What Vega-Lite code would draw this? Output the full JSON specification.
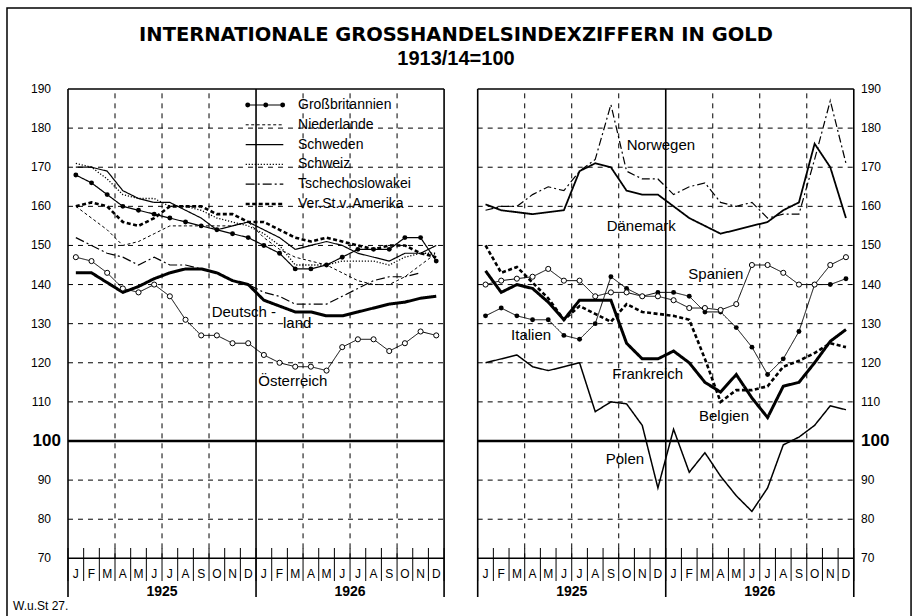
{
  "$schema": "https://vega.github.io/schema/vega-lite/v6.json",
  "width": 912,
  "height": 616,
  "autosize": "none",
  "padding": 0,
  "background": "white",
  "config": {"view": {"stroke": null}, "text": {"font": "Liberation Sans", "color": "black"}},
  "datasets": {
    "series": [
      {"p":"L","s":"Großbritannien","k":1,"v":168},{"p":"L","s":"Großbritannien","k":2,"v":166},{"p":"L","s":"Großbritannien","k":3,"v":163},{"p":"L","s":"Großbritannien","k":4,"v":160},{"p":"L","s":"Großbritannien","k":5,"v":159},{"p":"L","s":"Großbritannien","k":6,"v":158},{"p":"L","s":"Großbritannien","k":7,"v":157},{"p":"L","s":"Großbritannien","k":8,"v":156},{"p":"L","s":"Großbritannien","k":9,"v":155},{"p":"L","s":"Großbritannien","k":10,"v":154},{"p":"L","s":"Großbritannien","k":11,"v":153},{"p":"L","s":"Großbritannien","k":12,"v":152},{"p":"L","s":"Großbritannien","k":13,"v":150},{"p":"L","s":"Großbritannien","k":14,"v":148},{"p":"L","s":"Großbritannien","k":15,"v":144},{"p":"L","s":"Großbritannien","k":16,"v":144},{"p":"L","s":"Großbritannien","k":17,"v":145},{"p":"L","s":"Großbritannien","k":18,"v":147},{"p":"L","s":"Großbritannien","k":19,"v":149},{"p":"L","s":"Großbritannien","k":20,"v":149},{"p":"L","s":"Großbritannien","k":21,"v":149},{"p":"L","s":"Großbritannien","k":22,"v":152},{"p":"L","s":"Großbritannien","k":23,"v":152},{"p":"L","s":"Großbritannien","k":24,"v":146},
      {"p":"L","s":"Niederlande","k":1,"v":160},{"p":"L","s":"Niederlande","k":2,"v":157},{"p":"L","s":"Niederlande","k":3,"v":154},{"p":"L","s":"Niederlande","k":4,"v":150},{"p":"L","s":"Niederlande","k":5,"v":151},{"p":"L","s":"Niederlande","k":6,"v":153},{"p":"L","s":"Niederlande","k":7,"v":155},{"p":"L","s":"Niederlande","k":8,"v":155},{"p":"L","s":"Niederlande","k":9,"v":155},{"p":"L","s":"Niederlande","k":10,"v":155},{"p":"L","s":"Niederlande","k":11,"v":155},{"p":"L","s":"Niederlande","k":12,"v":156},{"p":"L","s":"Niederlande","k":13,"v":152},{"p":"L","s":"Niederlande","k":14,"v":149},{"p":"L","s":"Niederlande","k":15,"v":147},{"p":"L","s":"Niederlande","k":16,"v":146},{"p":"L","s":"Niederlande","k":17,"v":145},{"p":"L","s":"Niederlande","k":18,"v":143},{"p":"L","s":"Niederlande","k":19,"v":141},{"p":"L","s":"Niederlande","k":20,"v":140},{"p":"L","s":"Niederlande","k":21,"v":140},{"p":"L","s":"Niederlande","k":22,"v":142},{"p":"L","s":"Niederlande","k":23,"v":145},{"p":"L","s":"Niederlande","k":24,"v":148},
      {"p":"L","s":"Schweden","k":1,"v":170},{"p":"L","s":"Schweden","k":2,"v":170},{"p":"L","s":"Schweden","k":3,"v":169},{"p":"L","s":"Schweden","k":4,"v":164},{"p":"L","s":"Schweden","k":5,"v":162},{"p":"L","s":"Schweden","k":6,"v":161},{"p":"L","s":"Schweden","k":7,"v":161},{"p":"L","s":"Schweden","k":8,"v":159},{"p":"L","s":"Schweden","k":9,"v":157},{"p":"L","s":"Schweden","k":10,"v":154},{"p":"L","s":"Schweden","k":11,"v":155},{"p":"L","s":"Schweden","k":12,"v":156},{"p":"L","s":"Schweden","k":13,"v":154},{"p":"L","s":"Schweden","k":14,"v":152},{"p":"L","s":"Schweden","k":15,"v":149},{"p":"L","s":"Schweden","k":16,"v":150},{"p":"L","s":"Schweden","k":17,"v":151},{"p":"L","s":"Schweden","k":18,"v":150},{"p":"L","s":"Schweden","k":19,"v":148},{"p":"L","s":"Schweden","k":20,"v":147},{"p":"L","s":"Schweden","k":21,"v":146},{"p":"L","s":"Schweden","k":22,"v":148},{"p":"L","s":"Schweden","k":23,"v":148},{"p":"L","s":"Schweden","k":24,"v":150},
      {"p":"L","s":"Schweiz","k":1,"v":171},{"p":"L","s":"Schweiz","k":2,"v":170},{"p":"L","s":"Schweiz","k":3,"v":167},{"p":"L","s":"Schweiz","k":4,"v":163},{"p":"L","s":"Schweiz","k":5,"v":162},{"p":"L","s":"Schweiz","k":6,"v":162},{"p":"L","s":"Schweiz","k":7,"v":160},{"p":"L","s":"Schweiz","k":8,"v":160},{"p":"L","s":"Schweiz","k":9,"v":159},{"p":"L","s":"Schweiz","k":10,"v":157},{"p":"L","s":"Schweiz","k":11,"v":156},{"p":"L","s":"Schweiz","k":12,"v":155},{"p":"L","s":"Schweiz","k":13,"v":153},{"p":"L","s":"Schweiz","k":14,"v":150},{"p":"L","s":"Schweiz","k":15,"v":145},{"p":"L","s":"Schweiz","k":16,"v":145},{"p":"L","s":"Schweiz","k":17,"v":145},{"p":"L","s":"Schweiz","k":18,"v":146},{"p":"L","s":"Schweiz","k":19,"v":146},{"p":"L","s":"Schweiz","k":20,"v":146},{"p":"L","s":"Schweiz","k":21,"v":145},{"p":"L","s":"Schweiz","k":22,"v":147},{"p":"L","s":"Schweiz","k":23,"v":148},{"p":"L","s":"Schweiz","k":24,"v":148},
      {"p":"L","s":"Tschechoslowakei","k":1,"v":152},{"p":"L","s":"Tschechoslowakei","k":2,"v":150},{"p":"L","s":"Tschechoslowakei","k":3,"v":148},{"p":"L","s":"Tschechoslowakei","k":4,"v":147},{"p":"L","s":"Tschechoslowakei","k":5,"v":145},{"p":"L","s":"Tschechoslowakei","k":6,"v":147},{"p":"L","s":"Tschechoslowakei","k":7,"v":145},{"p":"L","s":"Tschechoslowakei","k":8,"v":145},{"p":"L","s":"Tschechoslowakei","k":9,"v":144},{"p":"L","s":"Tschechoslowakei","k":10,"v":143},{"p":"L","s":"Tschechoslowakei","k":11,"v":141},{"p":"L","s":"Tschechoslowakei","k":12,"v":140},{"p":"L","s":"Tschechoslowakei","k":13,"v":138},{"p":"L","s":"Tschechoslowakei","k":14,"v":137},{"p":"L","s":"Tschechoslowakei","k":15,"v":135},{"p":"L","s":"Tschechoslowakei","k":16,"v":135},{"p":"L","s":"Tschechoslowakei","k":17,"v":135},{"p":"L","s":"Tschechoslowakei","k":18,"v":137},{"p":"L","s":"Tschechoslowakei","k":19,"v":139},{"p":"L","s":"Tschechoslowakei","k":20,"v":141},{"p":"L","s":"Tschechoslowakei","k":21,"v":142},{"p":"L","s":"Tschechoslowakei","k":22,"v":142},{"p":"L","s":"Tschechoslowakei","k":23,"v":143},
      {"p":"L","s":"Ver.St.v. Amerika","k":1,"v":160},{"p":"L","s":"Ver.St.v. Amerika","k":2,"v":161},{"p":"L","s":"Ver.St.v. Amerika","k":3,"v":160},{"p":"L","s":"Ver.St.v. Amerika","k":4,"v":156},{"p":"L","s":"Ver.St.v. Amerika","k":5,"v":155},{"p":"L","s":"Ver.St.v. Amerika","k":6,"v":157},{"p":"L","s":"Ver.St.v. Amerika","k":7,"v":160},{"p":"L","s":"Ver.St.v. Amerika","k":8,"v":160},{"p":"L","s":"Ver.St.v. Amerika","k":9,"v":160},{"p":"L","s":"Ver.St.v. Amerika","k":10,"v":158},{"p":"L","s":"Ver.St.v. Amerika","k":11,"v":158},{"p":"L","s":"Ver.St.v. Amerika","k":12,"v":156},{"p":"L","s":"Ver.St.v. Amerika","k":13,"v":156},{"p":"L","s":"Ver.St.v. Amerika","k":14,"v":154},{"p":"L","s":"Ver.St.v. Amerika","k":15,"v":152},{"p":"L","s":"Ver.St.v. Amerika","k":16,"v":151},{"p":"L","s":"Ver.St.v. Amerika","k":17,"v":152},{"p":"L","s":"Ver.St.v. Amerika","k":18,"v":151},{"p":"L","s":"Ver.St.v. Amerika","k":19,"v":150},{"p":"L","s":"Ver.St.v. Amerika","k":20,"v":149},{"p":"L","s":"Ver.St.v. Amerika","k":21,"v":150},{"p":"L","s":"Ver.St.v. Amerika","k":22,"v":150},{"p":"L","s":"Ver.St.v. Amerika","k":23,"v":148},{"p":"L","s":"Ver.St.v. Amerika","k":24,"v":147},
      {"p":"L","s":"Deutschland","k":1,"v":143},{"p":"L","s":"Deutschland","k":2,"v":143},{"p":"L","s":"Deutschland","k":3,"v":140.5},{"p":"L","s":"Deutschland","k":4,"v":138},{"p":"L","s":"Deutschland","k":5,"v":139.5},{"p":"L","s":"Deutschland","k":6,"v":141.5},{"p":"L","s":"Deutschland","k":7,"v":143},{"p":"L","s":"Deutschland","k":8,"v":144},{"p":"L","s":"Deutschland","k":9,"v":144},{"p":"L","s":"Deutschland","k":10,"v":143},{"p":"L","s":"Deutschland","k":11,"v":141},{"p":"L","s":"Deutschland","k":12,"v":140},{"p":"L","s":"Deutschland","k":13,"v":136},{"p":"L","s":"Deutschland","k":14,"v":134.5},{"p":"L","s":"Deutschland","k":15,"v":133},{"p":"L","s":"Deutschland","k":16,"v":133},{"p":"L","s":"Deutschland","k":17,"v":132},{"p":"L","s":"Deutschland","k":18,"v":132},{"p":"L","s":"Deutschland","k":19,"v":133},{"p":"L","s":"Deutschland","k":20,"v":134},{"p":"L","s":"Deutschland","k":21,"v":135},{"p":"L","s":"Deutschland","k":22,"v":135.5},{"p":"L","s":"Deutschland","k":23,"v":136.5},{"p":"L","s":"Deutschland","k":24,"v":137},
      {"p":"L","s":"Österreich","k":1,"v":147},{"p":"L","s":"Österreich","k":2,"v":146},{"p":"L","s":"Österreich","k":3,"v":143},{"p":"L","s":"Österreich","k":4,"v":139},{"p":"L","s":"Österreich","k":5,"v":138},{"p":"L","s":"Österreich","k":6,"v":140},{"p":"L","s":"Österreich","k":7,"v":137},{"p":"L","s":"Österreich","k":8,"v":131},{"p":"L","s":"Österreich","k":9,"v":127},{"p":"L","s":"Österreich","k":10,"v":127},{"p":"L","s":"Österreich","k":11,"v":125},{"p":"L","s":"Österreich","k":12,"v":125},{"p":"L","s":"Österreich","k":13,"v":122},{"p":"L","s":"Österreich","k":14,"v":120},{"p":"L","s":"Österreich","k":15,"v":119},{"p":"L","s":"Österreich","k":16,"v":119},{"p":"L","s":"Österreich","k":17,"v":118},{"p":"L","s":"Österreich","k":18,"v":124},{"p":"L","s":"Österreich","k":19,"v":126},{"p":"L","s":"Österreich","k":20,"v":126},{"p":"L","s":"Österreich","k":21,"v":123},{"p":"L","s":"Österreich","k":22,"v":125},{"p":"L","s":"Österreich","k":23,"v":128},{"p":"L","s":"Österreich","k":24,"v":127},
      {"p":"R","s":"Norwegen","k":1,"v":159},{"p":"R","s":"Norwegen","k":2,"v":160},{"p":"R","s":"Norwegen","k":3,"v":160},{"p":"R","s":"Norwegen","k":4,"v":163},{"p":"R","s":"Norwegen","k":5,"v":165},{"p":"R","s":"Norwegen","k":6,"v":164},{"p":"R","s":"Norwegen","k":7,"v":169},{"p":"R","s":"Norwegen","k":8,"v":172},{"p":"R","s":"Norwegen","k":9,"v":186},{"p":"R","s":"Norwegen","k":10,"v":169},{"p":"R","s":"Norwegen","k":11,"v":167},{"p":"R","s":"Norwegen","k":12,"v":167},{"p":"R","s":"Norwegen","k":13,"v":163},{"p":"R","s":"Norwegen","k":14,"v":165},{"p":"R","s":"Norwegen","k":15,"v":166},{"p":"R","s":"Norwegen","k":16,"v":161},{"p":"R","s":"Norwegen","k":17,"v":160},{"p":"R","s":"Norwegen","k":18,"v":161},{"p":"R","s":"Norwegen","k":19,"v":157},{"p":"R","s":"Norwegen","k":20,"v":158},{"p":"R","s":"Norwegen","k":21,"v":158},{"p":"R","s":"Norwegen","k":22,"v":172},{"p":"R","s":"Norwegen","k":23,"v":187},{"p":"R","s":"Norwegen","k":24,"v":171},
      {"p":"R","s":"Dänemark","k":1,"v":160.5},{"p":"R","s":"Dänemark","k":2,"v":159},{"p":"R","s":"Dänemark","k":3,"v":158.5},{"p":"R","s":"Dänemark","k":4,"v":158},{"p":"R","s":"Dänemark","k":5,"v":158.5},{"p":"R","s":"Dänemark","k":6,"v":159},{"p":"R","s":"Dänemark","k":7,"v":169},{"p":"R","s":"Dänemark","k":8,"v":171},{"p":"R","s":"Dänemark","k":9,"v":170},{"p":"R","s":"Dänemark","k":10,"v":164},{"p":"R","s":"Dänemark","k":11,"v":163},{"p":"R","s":"Dänemark","k":12,"v":163},{"p":"R","s":"Dänemark","k":13,"v":160},{"p":"R","s":"Dänemark","k":14,"v":157},{"p":"R","s":"Dänemark","k":15,"v":155},{"p":"R","s":"Dänemark","k":16,"v":153},{"p":"R","s":"Dänemark","k":17,"v":154},{"p":"R","s":"Dänemark","k":18,"v":155},{"p":"R","s":"Dänemark","k":19,"v":156},{"p":"R","s":"Dänemark","k":20,"v":159},{"p":"R","s":"Dänemark","k":21,"v":161},{"p":"R","s":"Dänemark","k":22,"v":176},{"p":"R","s":"Dänemark","k":23,"v":170},{"p":"R","s":"Dänemark","k":24,"v":157},
      {"p":"R","s":"Spanien","k":1,"v":140},{"p":"R","s":"Spanien","k":2,"v":141},{"p":"R","s":"Spanien","k":3,"v":141.5},{"p":"R","s":"Spanien","k":4,"v":142},{"p":"R","s":"Spanien","k":5,"v":144},{"p":"R","s":"Spanien","k":6,"v":141},{"p":"R","s":"Spanien","k":7,"v":141},{"p":"R","s":"Spanien","k":8,"v":137},{"p":"R","s":"Spanien","k":9,"v":138},{"p":"R","s":"Spanien","k":10,"v":138},{"p":"R","s":"Spanien","k":11,"v":137},{"p":"R","s":"Spanien","k":12,"v":137},{"p":"R","s":"Spanien","k":13,"v":136},{"p":"R","s":"Spanien","k":14,"v":134},{"p":"R","s":"Spanien","k":15,"v":134},{"p":"R","s":"Spanien","k":16,"v":133.5},{"p":"R","s":"Spanien","k":17,"v":135},{"p":"R","s":"Spanien","k":18,"v":145},{"p":"R","s":"Spanien","k":19,"v":145},{"p":"R","s":"Spanien","k":20,"v":143},{"p":"R","s":"Spanien","k":21,"v":140},{"p":"R","s":"Spanien","k":22,"v":140},{"p":"R","s":"Spanien","k":23,"v":145},{"p":"R","s":"Spanien","k":24,"v":147},
      {"p":"R","s":"Italien","k":1,"v":132},{"p":"R","s":"Italien","k":2,"v":134},{"p":"R","s":"Italien","k":3,"v":132},{"p":"R","s":"Italien","k":4,"v":131},{"p":"R","s":"Italien","k":5,"v":131},{"p":"R","s":"Italien","k":6,"v":127},{"p":"R","s":"Italien","k":7,"v":126},{"p":"R","s":"Italien","k":8,"v":130},{"p":"R","s":"Italien","k":9,"v":142},{"p":"R","s":"Italien","k":10,"v":139},{"p":"R","s":"Italien","k":11,"v":137},{"p":"R","s":"Italien","k":12,"v":138},{"p":"R","s":"Italien","k":13,"v":138},{"p":"R","s":"Italien","k":14,"v":137},{"p":"R","s":"Italien","k":15,"v":133},{"p":"R","s":"Italien","k":16,"v":133},{"p":"R","s":"Italien","k":17,"v":129},{"p":"R","s":"Italien","k":18,"v":124},{"p":"R","s":"Italien","k":19,"v":117},{"p":"R","s":"Italien","k":20,"v":121},{"p":"R","s":"Italien","k":21,"v":128},{"p":"R","s":"Italien","k":22,"v":140},{"p":"R","s":"Italien","k":23,"v":140},{"p":"R","s":"Italien","k":24,"v":141.5},
      {"p":"R","s":"Frankreich","k":1,"v":143.5},{"p":"R","s":"Frankreich","k":2,"v":138},{"p":"R","s":"Frankreich","k":3,"v":140},{"p":"R","s":"Frankreich","k":4,"v":139},{"p":"R","s":"Frankreich","k":5,"v":135.5},{"p":"R","s":"Frankreich","k":6,"v":131},{"p":"R","s":"Frankreich","k":7,"v":136},{"p":"R","s":"Frankreich","k":8,"v":136},{"p":"R","s":"Frankreich","k":9,"v":136},{"p":"R","s":"Frankreich","k":10,"v":125},{"p":"R","s":"Frankreich","k":11,"v":121},{"p":"R","s":"Frankreich","k":12,"v":121},{"p":"R","s":"Frankreich","k":13,"v":123},{"p":"R","s":"Frankreich","k":14,"v":120},{"p":"R","s":"Frankreich","k":15,"v":115},{"p":"R","s":"Frankreich","k":16,"v":112.5},{"p":"R","s":"Frankreich","k":17,"v":117},{"p":"R","s":"Frankreich","k":18,"v":111},{"p":"R","s":"Frankreich","k":19,"v":106},{"p":"R","s":"Frankreich","k":20,"v":114},{"p":"R","s":"Frankreich","k":21,"v":115},{"p":"R","s":"Frankreich","k":22,"v":120},{"p":"R","s":"Frankreich","k":23,"v":125.5},{"p":"R","s":"Frankreich","k":24,"v":128.5},
      {"p":"R","s":"Belgien","k":1,"v":150},{"p":"R","s":"Belgien","k":2,"v":143},{"p":"R","s":"Belgien","k":3,"v":144.5},{"p":"R","s":"Belgien","k":4,"v":140.5},{"p":"R","s":"Belgien","k":5,"v":136.5},{"p":"R","s":"Belgien","k":6,"v":131},{"p":"R","s":"Belgien","k":7,"v":134.5},{"p":"R","s":"Belgien","k":8,"v":132.5},{"p":"R","s":"Belgien","k":9,"v":130.5},{"p":"R","s":"Belgien","k":10,"v":135},{"p":"R","s":"Belgien","k":11,"v":133},{"p":"R","s":"Belgien","k":12,"v":132.5},{"p":"R","s":"Belgien","k":13,"v":132},{"p":"R","s":"Belgien","k":14,"v":131},{"p":"R","s":"Belgien","k":15,"v":121},{"p":"R","s":"Belgien","k":16,"v":110},{"p":"R","s":"Belgien","k":17,"v":113},{"p":"R","s":"Belgien","k":18,"v":113},{"p":"R","s":"Belgien","k":19,"v":114},{"p":"R","s":"Belgien","k":20,"v":119},{"p":"R","s":"Belgien","k":21,"v":120.5},{"p":"R","s":"Belgien","k":22,"v":122.5},{"p":"R","s":"Belgien","k":23,"v":125},{"p":"R","s":"Belgien","k":24,"v":124},
      {"p":"R","s":"Polen","k":1,"v":120},{"p":"R","s":"Polen","k":2,"v":121},{"p":"R","s":"Polen","k":3,"v":122},{"p":"R","s":"Polen","k":4,"v":119},{"p":"R","s":"Polen","k":5,"v":118},{"p":"R","s":"Polen","k":6,"v":119},{"p":"R","s":"Polen","k":7,"v":120},{"p":"R","s":"Polen","k":8,"v":107.5},{"p":"R","s":"Polen","k":9,"v":110},{"p":"R","s":"Polen","k":10,"v":109.5},{"p":"R","s":"Polen","k":11,"v":104},{"p":"R","s":"Polen","k":12,"v":88},{"p":"R","s":"Polen","k":13,"v":103},{"p":"R","s":"Polen","k":14,"v":92},{"p":"R","s":"Polen","k":15,"v":97},{"p":"R","s":"Polen","k":16,"v":91},{"p":"R","s":"Polen","k":17,"v":86},{"p":"R","s":"Polen","k":18,"v":82},{"p":"R","s":"Polen","k":19,"v":88},{"p":"R","s":"Polen","k":20,"v":99},{"p":"R","s":"Polen","k":21,"v":101},{"p":"R","s":"Polen","k":22,"v":104},{"p":"R","s":"Polen","k":23,"v":109},{"p":"R","s":"Polen","k":24,"v":108}
    ],
    "months": [
      {"k":1,"l":"J"},{"k":2,"l":"F"},{"k":3,"l":"M"},{"k":4,"l":"A"},{"k":5,"l":"M"},{"k":6,"l":"J"},{"k":7,"l":"J"},{"k":8,"l":"A"},{"k":9,"l":"S"},{"k":10,"l":"O"},{"k":11,"l":"N"},{"k":12,"l":"D"},
      {"k":13,"l":"J"},{"k":14,"l":"F"},{"k":15,"l":"M"},{"k":16,"l":"A"},{"k":17,"l":"M"},{"k":18,"l":"J"},{"k":19,"l":"J"},{"k":20,"l":"A"},{"k":21,"l":"S"},{"k":22,"l":"O"},{"k":23,"l":"N"},{"k":24,"l":"D"}
    ],
    "bounds": [{"b":0.5},{"b":1.5},{"b":2.5},{"b":3.5},{"b":4.5},{"b":5.5},{"b":6.5},{"b":7.5},{"b":8.5},{"b":9.5},{"b":10.5},{"b":11.5},{"b":12.5},{"b":13.5},{"b":14.5},{"b":15.5},{"b":16.5},{"b":17.5},{"b":18.5},{"b":19.5},{"b":20.5},{"b":21.5},{"b":22.5},{"b":23.5},{"b":24.5}],
    "vgrid": [{"b":3.5},{"b":6.5},{"b":9.5},{"b":15.5},{"b":18.5},{"b":21.5}],
    "frames": [{"b":0.5},{"b":12.5},{"b":24.5}],
    "hgrid": [{"v":80},{"v":90},{"v":110},{"v":120},{"v":130},{"v":140},{"v":150},{"v":160},{"v":170},{"v":180}],
    "hlines": [{"v":70},{"v":190}],
    "ylab": [{"v":70},{"v":80},{"v":90},{"v":110},{"v":120},{"v":130},{"v":140},{"v":150},{"v":160},{"v":170},{"v":180},{"v":190}],
    "years": [{"k":6.5,"yr":"1925"},{"k":18.5,"yr":"1926"}],
    "legend": [{"s":"Großbritannien"},{"s":"Niederlande"},{"s":"Schweden"},{"s":"Schweiz"},{"s":"Tschechoslowakei"},{"s":"Ver.St.v. Amerika"}]
  },
  "resolve": {"scale": {"x": "independent", "y": "independent"}},
  "layer": [
    {
      "layer": [
        {"data": {"name": "hgrid"}, "mark": {"type": "rule", "color": "black", "strokeWidth": 1, "strokeDash": [5, 5]},
         "encoding": {"y": {"field": "v", "type": "quantitative", "scale": {"domain": [55.256, 212.756], "nice": false, "zero": false}, "axis": null},
                      "x": {"datum": 0.5, "type": "quantitative", "scale": {"domain": [-3.8395, 54.361], "nice": false, "zero": false}, "axis": null}, "x2": {"datum": 24.5}}},
        {"data": {"name": "vgrid"}, "mark": {"type": "rule", "color": "black", "strokeWidth": 1, "strokeDash": [5, 5]},
         "encoding": {"x": {"field": "b", "type": "quantitative", "scale": {"domain": [-3.8395, 54.361], "nice": false, "zero": false}, "axis": null},
                      "y": {"datum": 70, "type": "quantitative", "scale": {"domain": [55.256, 212.756], "nice": false, "zero": false}, "axis": null}, "y2": {"datum": 190}}},
        {"data": {"name": "hlines"}, "mark": {"type": "rule", "color": "black", "strokeWidth": 1.5},
         "encoding": {"y": {"field": "v", "type": "quantitative", "scale": {"domain": [55.256, 212.756], "nice": false, "zero": false}, "axis": null},
                      "x": {"datum": 0.5, "type": "quantitative", "scale": {"domain": [-3.8395, 54.361], "nice": false, "zero": false}, "axis": null}, "x2": {"datum": 24.5}}},
        {"data": {"values": [{}]}, "mark": {"type": "rule", "color": "black", "strokeWidth": 2.3},
         "encoding": {"y": {"datum": 100, "type": "quantitative", "scale": {"domain": [55.256, 212.756], "nice": false, "zero": false}, "axis": null},
                      "x": {"datum": 0.5, "type": "quantitative", "scale": {"domain": [-3.8395, 54.361], "nice": false, "zero": false}, "axis": null}, "x2": {"datum": 24.5}}},
        {"data": {"name": "frames"}, "mark": {"type": "rule", "color": "black", "strokeWidth": 1.6},
         "encoding": {"x": {"field": "b", "type": "quantitative", "scale": {"domain": [-3.8395, 54.361], "nice": false, "zero": false}, "axis": null},
                      "y": {"datum": 60.1, "type": "quantitative", "scale": {"domain": [55.256, 212.756], "nice": false, "zero": false}, "axis": null}, "y2": {"datum": 190}}},
        {"data": {"name": "bounds"}, "mark": {"type": "rule", "color": "black", "strokeWidth": 1},
         "encoding": {"x": {"field": "b", "type": "quantitative", "scale": {"domain": [-3.8395, 54.361], "nice": false, "zero": false}, "axis": null},
                      "y": {"datum": 72.64, "type": "quantitative", "scale": {"domain": [55.256, 212.756], "nice": false, "zero": false}, "axis": null}, "y2": {"datum": 64.2}}},
        {"data": {"name": "months"}, "mark": {"type": "text", "fontSize": 12, "baseline": "middle", "align": "center"},
         "encoding": {"x": {"field": "k", "type": "quantitative", "scale": {"domain": [-3.8395, 54.361], "nice": false, "zero": false}, "axis": null},
                      "y": {"datum": 65.9, "type": "quantitative", "scale": {"domain": [55.256, 212.756], "nice": false, "zero": false}, "axis": null},
                      "text": {"field": "l"}}},
        {"data": {"name": "years"}, "mark": {"type": "text", "fontSize": 14, "fontWeight": "bold", "baseline": "middle", "align": "center"},
         "encoding": {"x": {"field": "k", "type": "quantitative", "scale": {"domain": [-3.8395, 54.361], "nice": false, "zero": false}, "axis": null},
                      "y": {"datum": 61.5, "type": "quantitative", "scale": {"domain": [55.256, 212.756], "nice": false, "zero": false}, "axis": null},
                      "text": {"field": "yr"}}},
        {"data": {"name": "ylab"}, "mark": {"type": "text", "fontSize": 12, "baseline": "middle", "align": "right"},
         "encoding": {"x": {"datum": -0.585, "type": "quantitative", "scale": {"domain": [-3.8395, 54.361], "nice": false, "zero": false}, "axis": null},
                      "y": {"field": "v", "type": "quantitative", "scale": {"domain": [55.256, 212.756], "nice": false, "zero": false}, "axis": null},
                      "text": {"field": "v", "type": "quantitative"}}},
        {"data": {"values": [{}]}, "mark": {"type": "text", "fontSize": 17, "fontWeight": "bold", "baseline": "middle", "align": "right"},
         "encoding": {"x": {"datum": 0.053, "type": "quantitative", "scale": {"domain": [-3.8395, 54.361], "nice": false, "zero": false}, "axis": null},
                      "y": {"datum": 100, "type": "quantitative", "scale": {"domain": [55.256, 212.756], "nice": false, "zero": false}, "axis": null},
                      "text": {"value": "100"}}},
        {"data": {"name": "series"}, "transform": [{"filter": "datum.p == 'L'"}],
         "mark": {"type": "line", "color": "black"},
         "encoding": {"x": {"field": "k", "type": "quantitative", "scale": {"domain": [-3.8395, 54.361], "nice": false, "zero": false}, "axis": null},
                      "y": {"field": "v", "type": "quantitative", "scale": {"domain": [55.256, 212.756], "nice": false, "zero": false}, "axis": null},
                      "detail": {"field": "s"},
                      "order": {"field": "k"},
                      "strokeDash": {"field": "s", "type": "nominal", "legend": null, "scale": {"domain": ["Großbritannien","Niederlande","Schweden","Schweiz","Tschechoslowakei","Ver.St.v. Amerika","Deutschland","Österreich","Norwegen","Dänemark","Spanien","Italien","Frankreich","Belgien","Polen"], "range": [[1,0],[3,2.5],[1,0],[1.2,1.8],[9,3,2,3],[4,2.5],[1,0],[1,0],[8,3,2,3],[1,0],[1,0],[1,0],[1,0],[4,2.5],[1,0]]}},
                      "strokeWidth": {"field": "s", "type": "nominal", "legend": null, "scale": {"type": "ordinal", "domain": ["Großbritannien","Niederlande","Schweden","Schweiz","Tschechoslowakei","Ver.St.v. Amerika","Deutschland","Österreich","Norwegen","Dänemark","Spanien","Italien","Frankreich","Belgien","Polen"], "range": [1.2,1,1.2,1.3,1.2,2.6,3,1,1.2,1.8,1,1,3,2.6,1.5]}}}},
        {"data": {"name": "series"}, "transform": [{"filter": "datum.s == 'Großbritannien'"}],
         "mark": {"type": "point", "filled": true, "color": "black", "size": 24, "opacity": 1},
         "encoding": {"x": {"field": "k", "type": "quantitative", "scale": {"domain": [-3.8395, 54.361], "nice": false, "zero": false}, "axis": null},
                      "y": {"field": "v", "type": "quantitative", "scale": {"domain": [55.256, 212.756], "nice": false, "zero": false}, "axis": null}}},
        {"data": {"name": "series"}, "transform": [{"filter": "datum.s == 'Österreich'"}],
         "mark": {"type": "point", "filled": false, "fill": "white", "fillOpacity": 1, "stroke": "black", "strokeWidth": 1, "size": 26, "opacity": 1},
         "encoding": {"x": {"field": "k", "type": "quantitative", "scale": {"domain": [-3.8395, 54.361], "nice": false, "zero": false}, "axis": null},
                      "y": {"field": "v", "type": "quantitative", "scale": {"domain": [55.256, 212.756], "nice": false, "zero": false}, "axis": null}}},
        {"data": {"values": [{}]}, "mark": {"type": "text", "fontSize": 15, "baseline": "middle", "align": "left"},
         "encoding": {"x": {"datum": 9.67, "type": "quantitative", "scale": {"domain": [-3.8395, 54.361], "nice": false, "zero": false}, "axis": null},
                      "y": {"datum": 133.1, "type": "quantitative", "scale": {"domain": [55.256, 212.756], "nice": false, "zero": false}, "axis": null},
                      "text": {"value": "Deutsch -"}}},
        {"data": {"values": [{}]}, "mark": {"type": "text", "fontSize": 15, "baseline": "middle", "align": "left"},
         "encoding": {"x": {"datum": 14.22, "type": "quantitative", "scale": {"domain": [-3.8395, 54.361], "nice": false, "zero": false}, "axis": null},
                      "y": {"datum": 130.2, "type": "quantitative", "scale": {"domain": [55.256, 212.756], "nice": false, "zero": false}, "axis": null},
                      "text": {"value": "land"}}},
        {"data": {"values": [{}]}, "mark": {"type": "text", "fontSize": 15, "baseline": "middle", "align": "left"},
         "encoding": {"x": {"datum": 12.64, "type": "quantitative", "scale": {"domain": [-3.8395, 54.361], "nice": false, "zero": false}, "axis": null},
                      "y": {"datum": 115.4, "type": "quantitative", "scale": {"domain": [55.256, 212.756], "nice": false, "zero": false}, "axis": null},
                      "text": {"value": "Österreich"}}},
        {"data": {"values": [{}]}, "mark": {"type": "text", "font": "DejaVu Sans", "fontSize": 19.5, "fontWeight": "bold", "baseline": "middle", "align": "center"},
         "encoding": {"x": {"datum": 25.26, "type": "quantitative", "scale": {"domain": [-3.8395, 54.361], "nice": false, "zero": false}, "axis": null},
                      "y": {"datum": 203.7, "type": "quantitative", "scale": {"domain": [55.256, 212.756], "nice": false, "zero": false}, "axis": null},
                      "text": {"value": "INTERNATIONALE  GROSSHANDELSINDEXZIFFERN IN GOLD"}}},
        {"data": {"values": [{}]}, "mark": {"type": "text", "fontSize": 20, "fontWeight": "bold", "baseline": "middle", "align": "center"},
         "encoding": {"x": {"datum": 25.26, "type": "quantitative", "scale": {"domain": [-3.8395, 54.361], "nice": false, "zero": false}, "axis": null},
                      "y": {"datum": 197.7, "type": "quantitative", "scale": {"domain": [55.256, 212.756], "nice": false, "zero": false}, "axis": null},
                      "text": {"value": "1913/14=100"}}},
        {"data": {"values": [{}]}, "mark": {"type": "text", "fontSize": 12, "baseline": "middle", "align": "left"},
         "encoding": {"x": {"datum": -3.01, "type": "quantitative", "scale": {"domain": [-3.8395, 54.361], "nice": false, "zero": false}, "axis": null},
                      "y": {"datum": 57.8, "type": "quantitative", "scale": {"domain": [55.256, 212.756], "nice": false, "zero": false}, "axis": null},
                      "text": {"value": "W.u.St 27."}}},
        {"data": {"values": [{}]}, "mark": {"type": "rect", "fill": null, "fillOpacity": 0, "stroke": "black", "strokeWidth": 1.5},
         "encoding": {"x": {"datum": -3.393, "type": "quantitative", "scale": {"domain": [-3.8395, 54.361], "nice": false, "zero": false}, "axis": null}, "x2": {"datum": 54.3},
                      "y": {"datum": 210.7, "type": "quantitative", "scale": {"domain": [55.256, 212.756], "nice": false, "zero": false}, "axis": null}, "y2": {"datum": 54}}}
      ]
    },
    {
      "layer": [
        {"data": {"name": "hgrid"}, "mark": {"type": "rule", "color": "black", "strokeWidth": 1, "strokeDash": [5, 5]},
         "encoding": {"y": {"field": "v", "type": "quantitative", "scale": {"domain": [55.256, 212.756], "nice": false, "zero": false}, "axis": null},
                      "x": {"datum": 0.5, "type": "quantitative", "scale": {"domain": [-29.985, 28.215], "nice": false, "zero": false}, "axis": null}, "x2": {"datum": 24.5}}},
        {"data": {"name": "vgrid"}, "mark": {"type": "rule", "color": "black", "strokeWidth": 1, "strokeDash": [5, 5]},
         "encoding": {"x": {"field": "b", "type": "quantitative", "scale": {"domain": [-29.985, 28.215], "nice": false, "zero": false}, "axis": null},
                      "y": {"datum": 70, "type": "quantitative", "scale": {"domain": [55.256, 212.756], "nice": false, "zero": false}, "axis": null}, "y2": {"datum": 190}}},
        {"data": {"name": "hlines"}, "mark": {"type": "rule", "color": "black", "strokeWidth": 1.5},
         "encoding": {"y": {"field": "v", "type": "quantitative", "scale": {"domain": [55.256, 212.756], "nice": false, "zero": false}, "axis": null},
                      "x": {"datum": 0.5, "type": "quantitative", "scale": {"domain": [-29.985, 28.215], "nice": false, "zero": false}, "axis": null}, "x2": {"datum": 24.5}}},
        {"data": {"values": [{}]}, "mark": {"type": "rule", "color": "black", "strokeWidth": 2.3},
         "encoding": {"y": {"datum": 100, "type": "quantitative", "scale": {"domain": [55.256, 212.756], "nice": false, "zero": false}, "axis": null},
                      "x": {"datum": 0.5, "type": "quantitative", "scale": {"domain": [-29.985, 28.215], "nice": false, "zero": false}, "axis": null}, "x2": {"datum": 24.5}}},
        {"data": {"name": "frames"}, "mark": {"type": "rule", "color": "black", "strokeWidth": 1.6},
         "encoding": {"x": {"field": "b", "type": "quantitative", "scale": {"domain": [-29.985, 28.215], "nice": false, "zero": false}, "axis": null},
                      "y": {"datum": 60.1, "type": "quantitative", "scale": {"domain": [55.256, 212.756], "nice": false, "zero": false}, "axis": null}, "y2": {"datum": 190}}},
        {"data": {"name": "bounds"}, "mark": {"type": "rule", "color": "black", "strokeWidth": 1},
         "encoding": {"x": {"field": "b", "type": "quantitative", "scale": {"domain": [-29.985, 28.215], "nice": false, "zero": false}, "axis": null},
                      "y": {"datum": 72.64, "type": "quantitative", "scale": {"domain": [55.256, 212.756], "nice": false, "zero": false}, "axis": null}, "y2": {"datum": 64.2}}},
        {"data": {"name": "months"}, "mark": {"type": "text", "fontSize": 12, "baseline": "middle", "align": "center"},
         "encoding": {"x": {"field": "k", "type": "quantitative", "scale": {"domain": [-29.985, 28.215], "nice": false, "zero": false}, "axis": null},
                      "y": {"datum": 65.9, "type": "quantitative", "scale": {"domain": [55.256, 212.756], "nice": false, "zero": false}, "axis": null},
                      "text": {"field": "l"}}},
        {"data": {"name": "years"}, "mark": {"type": "text", "fontSize": 14, "fontWeight": "bold", "baseline": "middle", "align": "center"},
         "encoding": {"x": {"field": "k", "type": "quantitative", "scale": {"domain": [-29.985, 28.215], "nice": false, "zero": false}, "axis": null},
                      "y": {"datum": 61.5, "type": "quantitative", "scale": {"domain": [55.256, 212.756], "nice": false, "zero": false}, "axis": null},
                      "text": {"field": "yr"}}},
        {"data": {"name": "ylab"}, "mark": {"type": "text", "fontSize": 12, "baseline": "middle", "align": "left"},
         "encoding": {"x": {"datum": 24.96, "type": "quantitative", "scale": {"domain": [-29.985, 28.215], "nice": false, "zero": false}, "axis": null},
                      "y": {"field": "v", "type": "quantitative", "scale": {"domain": [55.256, 212.756], "nice": false, "zero": false}, "axis": null},
                      "text": {"field": "v", "type": "quantitative"}}},
        {"data": {"values": [{}]}, "mark": {"type": "text", "fontSize": 17, "fontWeight": "bold", "baseline": "middle", "align": "left"},
         "encoding": {"x": {"datum": 24.96, "type": "quantitative", "scale": {"domain": [-29.985, 28.215], "nice": false, "zero": false}, "axis": null},
                      "y": {"datum": 100, "type": "quantitative", "scale": {"domain": [55.256, 212.756], "nice": false, "zero": false}, "axis": null},
                      "text": {"value": "100"}}},
        {"data": {"name": "series"}, "transform": [{"filter": "datum.p == 'R'"}],
         "mark": {"type": "line", "color": "black"},
         "encoding": {"x": {"field": "k", "type": "quantitative", "scale": {"domain": [-29.985, 28.215], "nice": false, "zero": false}, "axis": null},
                      "y": {"field": "v", "type": "quantitative", "scale": {"domain": [55.256, 212.756], "nice": false, "zero": false}, "axis": null},
                      "detail": {"field": "s"},
                      "order": {"field": "k"},
                      "strokeDash": {"field": "s", "type": "nominal", "legend": null, "scale": {"domain": ["Großbritannien","Niederlande","Schweden","Schweiz","Tschechoslowakei","Ver.St.v. Amerika","Deutschland","Österreich","Norwegen","Dänemark","Spanien","Italien","Frankreich","Belgien","Polen"], "range": [[1,0],[3,2.5],[1,0],[1.2,1.8],[9,3,2,3],[4,2.5],[1,0],[1,0],[8,3,2,3],[1,0],[1,0],[1,0],[1,0],[4,2.5],[1,0]]}},
                      "strokeWidth": {"field": "s", "type": "nominal", "legend": null, "scale": {"type": "ordinal", "domain": ["Großbritannien","Niederlande","Schweden","Schweiz","Tschechoslowakei","Ver.St.v. Amerika","Deutschland","Österreich","Norwegen","Dänemark","Spanien","Italien","Frankreich","Belgien","Polen"], "range": [1.2,1,1.2,1.3,1.2,2.6,3,1,1.2,1.8,1,1,3,2.6,1.5]}}}},
        {"data": {"name": "series"}, "transform": [{"filter": "datum.s == 'Italien'"}],
         "mark": {"type": "point", "filled": true, "color": "black", "size": 24, "opacity": 1},
         "encoding": {"x": {"field": "k", "type": "quantitative", "scale": {"domain": [-29.985, 28.215], "nice": false, "zero": false}, "axis": null},
                      "y": {"field": "v", "type": "quantitative", "scale": {"domain": [55.256, 212.756], "nice": false, "zero": false}, "axis": null}}},
        {"data": {"name": "series"}, "transform": [{"filter": "datum.s == 'Spanien'"}],
         "mark": {"type": "point", "filled": false, "fill": "white", "fillOpacity": 1, "stroke": "black", "strokeWidth": 1, "size": 26, "opacity": 1},
         "encoding": {"x": {"field": "k", "type": "quantitative", "scale": {"domain": [-29.985, 28.215], "nice": false, "zero": false}, "axis": null},
                      "y": {"field": "v", "type": "quantitative", "scale": {"domain": [55.256, 212.756], "nice": false, "zero": false}, "axis": null}}},
        {"data": {"values": [{}]}, "mark": {"type": "text", "fontSize": 15, "baseline": "middle", "align": "left"},
         "encoding": {"x": {"datum": 10.01, "type": "quantitative", "scale": {"domain": [-29.985, 28.215], "nice": false, "zero": false}, "axis": null},
                      "y": {"datum": 175.7, "type": "quantitative", "scale": {"domain": [55.256, 212.756], "nice": false, "zero": false}, "axis": null},
                      "text": {"value": "Norwegen"}}},
        {"data": {"values": [{}]}, "mark": {"type": "text", "fontSize": 15, "baseline": "middle", "align": "left"},
         "encoding": {"x": {"datum": 8.73, "type": "quantitative", "scale": {"domain": [-29.985, 28.215], "nice": false, "zero": false}, "axis": null},
                      "y": {"datum": 155.0, "type": "quantitative", "scale": {"domain": [55.256, 212.756], "nice": false, "zero": false}, "axis": null},
                      "text": {"value": "Dänemark"}}},
        {"data": {"values": [{}]}, "mark": {"type": "text", "fontSize": 15, "baseline": "middle", "align": "left"},
         "encoding": {"x": {"datum": 13.94, "type": "quantitative", "scale": {"domain": [-29.985, 28.215], "nice": false, "zero": false}, "axis": null},
                      "y": {"datum": 142.7, "type": "quantitative", "scale": {"domain": [55.256, 212.756], "nice": false, "zero": false}, "axis": null},
                      "text": {"value": "Spanien"}}},
        {"data": {"values": [{}]}, "mark": {"type": "text", "fontSize": 15, "baseline": "middle", "align": "left"},
         "encoding": {"x": {"datum": 2.63, "type": "quantitative", "scale": {"domain": [-29.985, 28.215], "nice": false, "zero": false}, "axis": null},
                      "y": {"datum": 127.1, "type": "quantitative", "scale": {"domain": [55.256, 212.756], "nice": false, "zero": false}, "axis": null},
                      "text": {"value": "Italien"}}},
        {"data": {"values": [{}]}, "mark": {"type": "text", "fontSize": 15, "baseline": "middle", "align": "left"},
         "encoding": {"x": {"datum": 9.09, "type": "quantitative", "scale": {"domain": [-29.985, 28.215], "nice": false, "zero": false}, "axis": null},
                      "y": {"datum": 117.1, "type": "quantitative", "scale": {"domain": [55.256, 212.756], "nice": false, "zero": false}, "axis": null},
                      "text": {"value": "Frankreich"}}},
        {"data": {"values": [{}]}, "mark": {"type": "text", "fontSize": 15, "baseline": "middle", "align": "left"},
         "encoding": {"x": {"datum": 14.62, "type": "quantitative", "scale": {"domain": [-29.985, 28.215], "nice": false, "zero": false}, "axis": null},
                      "y": {"datum": 106.4, "type": "quantitative", "scale": {"domain": [55.256, 212.756], "nice": false, "zero": false}, "axis": null},
                      "text": {"value": "Belgien"}}},
        {"data": {"values": [{}]}, "mark": {"type": "text", "fontSize": 15, "baseline": "middle", "align": "left"},
         "encoding": {"x": {"datum": 8.67, "type": "quantitative", "scale": {"domain": [-29.985, 28.215], "nice": false, "zero": false}, "axis": null},
                      "y": {"datum": 95.3, "type": "quantitative", "scale": {"domain": [55.256, 212.756], "nice": false, "zero": false}, "axis": null},
                      "text": {"value": "Polen"}}}
      ]
    },
    {
      "data": {"name": "legend"},
      "layer": [
        {"mark": {"type": "rule", "color": "black"},
         "encoding": {"x": {"datum": 11.84, "type": "quantitative", "scale": {"domain": [-3.8395, 54.361], "nice": false, "zero": false}, "axis": null}, "x2": {"datum": 14.24},
                      "y": {"field": "s", "type": "nominal", "scale": {"type": "point", "domain": ["Großbritannien","Niederlande","Schweden","Schweiz","Tschechoslowakei","Ver.St.v. Amerika"], "range": [105, 204], "padding": 0}, "axis": null},
                      "strokeDash": {"field": "s", "type": "nominal", "legend": null, "scale": {"domain": ["Großbritannien","Niederlande","Schweden","Schweiz","Tschechoslowakei","Ver.St.v. Amerika","Deutschland","Österreich","Norwegen","Dänemark","Spanien","Italien","Frankreich","Belgien","Polen"], "range": [[1,0],[3,2.5],[1,0],[1.2,1.8],[9,3,2,3],[4,2.5],[1,0],[1,0],[8,3,2,3],[1,0],[1,0],[1,0],[1,0],[4,2.5],[1,0]]}},
                      "strokeWidth": {"field": "s", "type": "nominal", "legend": null, "scale": {"type": "ordinal", "domain": ["Großbritannien","Niederlande","Schweden","Schweiz","Tschechoslowakei","Ver.St.v. Amerika","Deutschland","Österreich","Norwegen","Dänemark","Spanien","Italien","Frankreich","Belgien","Polen"], "range": [1.2,1,1.2,1.3,1.2,2.6,3,1,1.2,1.8,1,1,3,2.6,1.5]}}}},
        {"mark": {"type": "text", "fontSize": 14, "baseline": "middle", "align": "left"},
         "encoding": {"x": {"datum": 15.18, "type": "quantitative", "scale": {"domain": [-3.8395, 54.361], "nice": false, "zero": false}, "axis": null},
                      "y": {"field": "s", "type": "nominal", "scale": {"type": "point", "domain": ["Großbritannien","Niederlande","Schweden","Schweiz","Tschechoslowakei","Ver.St.v. Amerika"], "range": [105, 204], "padding": 0}, "axis": null},
                      "text": {"field": "s"}}},
        {"transform": [{"filter": "datum.s == 'Großbritannien'"}], "mark": {"type": "point", "filled": true, "color": "black", "size": 24, "opacity": 1},
         "encoding": {"x": {"datum": 11.97, "type": "quantitative", "scale": {"domain": [-3.8395, 54.361], "nice": false, "zero": false}, "axis": null},
                      "y": {"field": "s", "type": "nominal", "scale": {"type": "point", "domain": ["Großbritannien","Niederlande","Schweden","Schweiz","Tschechoslowakei","Ver.St.v. Amerika"], "range": [105, 204], "padding": 0}, "axis": null}}},
        {"transform": [{"filter": "datum.s == 'Großbritannien'"}], "mark": {"type": "point", "filled": true, "color": "black", "size": 24, "opacity": 1},
         "encoding": {"x": {"datum": 13.12, "type": "quantitative", "scale": {"domain": [-3.8395, 54.361], "nice": false, "zero": false}, "axis": null},
                      "y": {"field": "s", "type": "nominal", "scale": {"type": "point", "domain": ["Großbritannien","Niederlande","Schweden","Schweiz","Tschechoslowakei","Ver.St.v. Amerika"], "range": [105, 204], "padding": 0}, "axis": null}}},
        {"transform": [{"filter": "datum.s == 'Großbritannien'"}], "mark": {"type": "point", "filled": true, "color": "black", "size": 24, "opacity": 1},
         "encoding": {"x": {"datum": 14.2, "type": "quantitative", "scale": {"domain": [-3.8395, 54.361], "nice": false, "zero": false}, "axis": null},
                      "y": {"field": "s", "type": "nominal", "scale": {"type": "point", "domain": ["Großbritannien","Niederlande","Schweden","Schweiz","Tschechoslowakei","Ver.St.v. Amerika"], "range": [105, 204], "padding": 0}, "axis": null}}}
      ]
    }
  ]
}
